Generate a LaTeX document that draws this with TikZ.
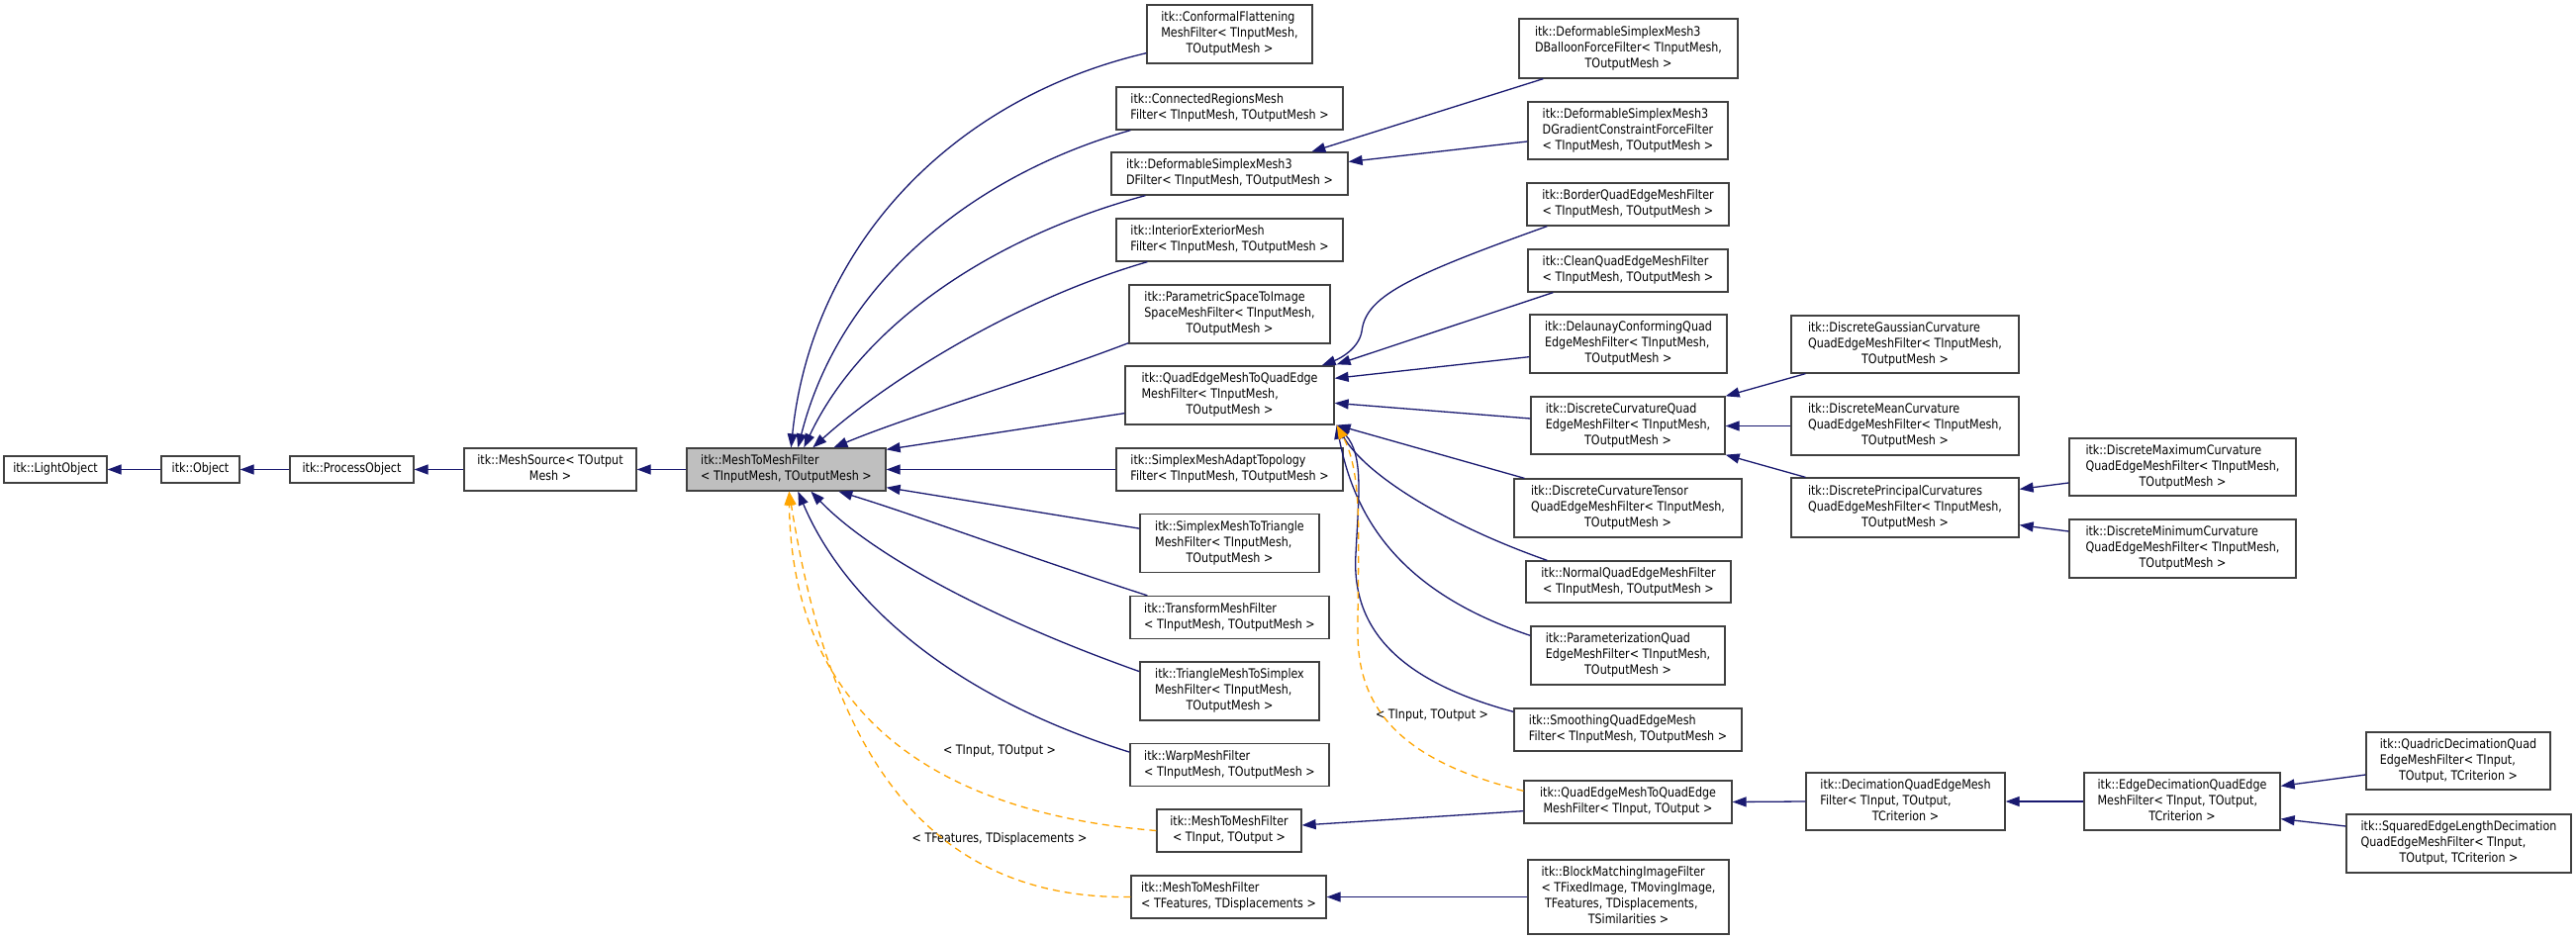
\documentclass[tikz,border=0pt]{standalone}
\usepackage{fontspec}
\setmainfont{DejaVu Sans}[FakeStretch=0.85]
\usetikzlibrary{arrows.meta,calc}
\definecolor{edgeblue}{RGB}{25,25,112}
\definecolor{tmplorange}{RGB}{255,165,0}
\definecolor{boxgray}{RGB}{191,191,191}
\definecolor{boxline}{RGB}{64,64,64}
\newcommand\dxl[1]{\begin{tabular}{@{}l@{}}#1\end{tabular}}
\newcommand\dxc{\multicolumn{1}{@{}c@{}}}
\begin{document}
\begin{tikzpicture}[x=1pt,y=-1pt,
  cls/.style={draw=boxline, line width=1.3pt, fill=white, inner sep=0pt, font=\fontsize{13.1}{16}\selectfont},
  inh/.style={draw=edgeblue, line width=1.3pt, -{Triangle[length=14pt,width=10pt,fill=edgeblue]}},
  tmpl/.style={draw=tmplorange, line width=1.3pt, dash pattern=on 7pt off 5pt, -{Triangle[length=14pt,width=10pt,fill=tmplorange]}},
  lbl/.style={font=\fontsize{13.1}{16}\selectfont, inner sep=0pt}]
\fill[white] (0,0) rectangle (2603,949);
\useasboundingbox (0,0) rectangle (2603,949);

% ---------- main chain ----------
\node[cls,minimum width=104,minimum height=27] (light) at (56,474.5) {\dxl{itk::LightObject}};
\node[cls,minimum width=79,minimum height=27] (object) at (202.5,474.5) {\dxl{itk::Object}};
\node[cls,minimum width=125,minimum height=27] (process) at (355.5,474.5) {\dxl{itk::ProcessObject}};
\node[cls,minimum width=174,minimum height=43] (source) at (556,474.5) {\dxl{itk::MeshSource< TOutput\\\dxc{Mesh >}}};
\node[cls,fill=boxgray,minimum width=201,minimum height=43] (m2m) at (794.5,474.5) {\dxl{itk::MeshToMeshFilter\\\dxc{< TInputMesh, TOutputMesh >}}};

% ---------- children of MeshToMeshFilter ----------
\node[cls,minimum width=167,minimum height=59] (conformal) at (1242.5,34.5) {\dxl{itk::ConformalFlattening\\MeshFilter< TInputMesh,\\\dxc{TOutputMesh >}}};
\node[cls,minimum width=229,minimum height=43] (connected) at (1242.5,109.5) {\dxl{itk::ConnectedRegionsMesh\\\dxc{Filter< TInputMesh, TOutputMesh >}}};
\node[cls,minimum width=239,minimum height=43] (deform) at (1242.5,175.5) {\dxl{itk::DeformableSimplexMesh3\\\dxc{DFilter< TInputMesh, TOutputMesh >}}};
\node[cls,minimum width=229,minimum height=43] (interior) at (1242.5,242.5) {\dxl{itk::InteriorExteriorMesh\\\dxc{Filter< TInputMesh, TOutputMesh >}}};
\node[cls,minimum width=203,minimum height=59] (param) at (1242.5,317.5) {\dxl{itk::ParametricSpaceToImage\\SpaceMeshFilter< TInputMesh,\\\dxc{TOutputMesh >}}};
\node[cls,minimum width=211,minimum height=59] (qe) at (1242.5,399.5) {\dxl{itk::QuadEdgeMeshToQuadEdge\\MeshFilter< TInputMesh,\\\dxc{TOutputMesh >}}};
\node[cls,minimum width=229,minimum height=43] (adapt) at (1242.5,474.5) {\dxl{itk::SimplexMeshAdaptTopology\\\dxc{Filter< TInputMesh, TOutputMesh >}}};
\node[cls,minimum width=181,minimum height=59] (stot) at (1242.5,549) {\dxl{itk::SimplexMeshToTriangle\\MeshFilter< TInputMesh,\\\dxc{TOutputMesh >}}};
\node[cls,minimum width=201,minimum height=43] (transform) at (1242.5,624) {\dxl{itk::TransformMeshFilter\\\dxc{< TInputMesh, TOutputMesh >}}};
\node[cls,minimum width=181,minimum height=59] (ttos) at (1242.5,698.5) {\dxl{itk::TriangleMeshToSimplex\\MeshFilter< TInputMesh,\\\dxc{TOutputMesh >}}};
\node[cls,minimum width=201,minimum height=43] (warp) at (1242.5,773) {\dxl{itk::WarpMeshFilter\\\dxc{< TInputMesh, TOutputMesh >}}};
\node[cls,minimum width=146,minimum height=43] (mio) at (1242,839.5) {\dxl{itk::MeshToMeshFilter\\\dxc{< TInput, TOutput >}}};
\node[cls,minimum width=197,minimum height=43] (mfd) at (1241.5,906.5) {\dxl{itk::MeshToMeshFilter\\\dxc{< TFeatures, TDisplacements >}}};

% ---------- third column ----------
\node[cls,minimum width=221,minimum height=60] (balloon) at (1645.5,49) {\dxl{itk::DeformableSimplexMesh3\\DBalloonForceFilter< TInputMesh,\\\dxc{TOutputMesh >}}};
\node[cls,minimum width=202,minimum height=58] (gradient) at (1645,132) {\dxl{itk::DeformableSimplexMesh3\\DGradientConstraintForceFilter\\\dxc{< TInputMesh, TOutputMesh >}}};
\node[cls,minimum width=204,minimum height=43] (border) at (1645,206.5) {\dxl{itk::BorderQuadEdgeMeshFilter\\\dxc{< TInputMesh, TOutputMesh >}}};
\node[cls,minimum width=202,minimum height=43] (clean) at (1645,273.5) {\dxl{itk::CleanQuadEdgeMeshFilter\\\dxc{< TInputMesh, TOutputMesh >}}};
\node[cls,minimum width=199,minimum height=59] (delaunay) at (1645.5,347.5) {\dxl{itk::DelaunayConformingQuad\\EdgeMeshFilter< TInputMesh,\\\dxc{TOutputMesh >}}};
\node[cls,minimum width=196,minimum height=58] (dcq) at (1645,430) {\dxl{itk::DiscreteCurvatureQuad\\EdgeMeshFilter< TInputMesh,\\\dxc{TOutputMesh >}}};
\node[cls,minimum width=230,minimum height=59] (tensor) at (1645,513.5) {\dxl{itk::DiscreteCurvatureTensor\\QuadEdgeMeshFilter< TInputMesh,\\\dxc{TOutputMesh >}}};
\node[cls,minimum width=207,minimum height=42] (normal) at (1645.5,588) {\dxl{itk::NormalQuadEdgeMeshFilter\\\dxc{< TInputMesh, TOutputMesh >}}};
\node[cls,minimum width=196,minimum height=59] (paramq) at (1645,662.5) {\dxl{itk::ParameterizationQuad\\EdgeMeshFilter< TInputMesh,\\\dxc{TOutputMesh >}}};
\node[cls,minimum width=230,minimum height=43] (smooth) at (1645,737.5) {\dxl{itk::SmoothingQuadEdgeMesh\\\dxc{Filter< TInputMesh, TOutputMesh >}}};
\node[cls,minimum width=210,minimum height=43] (qeio) at (1645,810.5) {\dxl{itk::QuadEdgeMeshToQuadEdge\\\dxc{MeshFilter< TInput, TOutput >}}};
\node[cls,minimum width=203,minimum height=75] (block) at (1645.5,906.5) {\dxl{itk::BlockMatchingImageFilter\\< TFixedImage, TMovingImage,\\\ TFeatures, TDisplacements,\\\dxc{TSimilarities >}}};

% ---------- fourth / fifth columns ----------
\node[cls,minimum width=230,minimum height=58] (gauss) at (1925,348) {\dxl{itk::DiscreteGaussianCurvature\\QuadEdgeMeshFilter< TInputMesh,\\\dxc{TOutputMesh >}}};
\node[cls,minimum width=230,minimum height=59] (mean) at (1925,430.5) {\dxl{itk::DiscreteMeanCurvature\\QuadEdgeMeshFilter< TInputMesh,\\\dxc{TOutputMesh >}}};
\node[cls,minimum width=230,minimum height=60] (principal) at (1925,513) {\dxl{itk::DiscretePrincipalCurvatures\\QuadEdgeMeshFilter< TInputMesh,\\\dxc{TOutputMesh >}}};
\node[cls,minimum width=229,minimum height=58] (maxc) at (2205.5,472) {\dxl{itk::DiscreteMaximumCurvature\\QuadEdgeMeshFilter< TInputMesh,\\\dxc{TOutputMesh >}}};
\node[cls,minimum width=229,minimum height=59] (minc) at (2205.5,554.5) {\dxl{itk::DiscreteMinimumCurvature\\QuadEdgeMeshFilter< TInputMesh,\\\dxc{TOutputMesh >}}};
\node[cls,minimum width=201,minimum height=58] (decim) at (1925.5,810) {\dxl{itk::DecimationQuadEdgeMesh\\Filter< TInput, TOutput,\\\dxc{TCriterion >}}};
\node[cls,minimum width=198,minimum height=58] (edgedec) at (2205,810) {\dxl{itk::EdgeDecimationQuadEdge\\MeshFilter< TInput, TOutput,\\\dxc{TCriterion >}}};
\node[cls,minimum width=186,minimum height=58] (quadric) at (2484,769) {\dxl{itk::QuadricDecimationQuad\\EdgeMeshFilter< TInput,\\\dxc{TOutput, TCriterion >}}};
\node[cls,minimum width=227,minimum height=59] (squared) at (2484.5,852.5) {\dxl{itk::SquaredEdgeLengthDecimation\\QuadEdgeMeshFilter< TInput,\\\dxc{TOutput, TCriterion >}}};

% ---------- labels ----------
\node[lbl] (labA) at (1010,759) {< TInput, TOutput >};
\node[lbl] (labB) at (1010,848) {< TFeatures, TDisplacements >};
\node[lbl] (labC) at (1447,723) {< TInput, TOutput >};

% ---------- edges: main chain ----------
\draw[inh] (object.west) -- (light.east);
\draw[inh] (process.west) -- (object.east);
\draw[inh] (source.west) -- (process.east);
\draw[inh] (m2m.west) -- (source.east);

% ---------- edges into MeshToMeshFilter ----------
\draw[inh] ($(conformal.south west)+(0,-11)$) .. controls (960,100) and (820,250) .. ($(m2m.north west)+(106,0)$);
\draw[inh] ($(connected.south west)+(15,0)$) .. controls (990,175) and (850,280) .. ($(m2m.north west)+(113,0)$);
\draw[inh] ($(deform.south west)+(35,0)$) .. controls (1000,240) and (870,330) .. ($(m2m.north west)+(119,0)$);
\draw[inh] ($(interior.south west)+(32,0)$) .. controls (1020,305) and (890,390) .. ($(m2m.north west)+(128,0)$);
\draw[inh] ($(param.south west)+(0,-1)$) .. controls (1040,385) and (920,420) .. ($(m2m.north west)+(149,0)$);
\draw[inh] ($(qe.south west)+(0,-12)$) -- ($(m2m.north east)+(0,2)$);
\draw[inh] (adapt.west) -- (m2m.east);
\draw[inh] ($(stot.south west)+(0,-45)$) -- ($(m2m.south east)+(0,-4)$);
\draw[inh] ($(transform.north west)+(18,0)$) .. controls (1030,560) and (930,522) .. ($(m2m.south west)+(154,0)$);
\draw[inh] ($(ttos.south west)+(0,-50)$) .. controls (1000,625) and (880,560) .. ($(m2m.south west)+(126,0)$);
\draw[inh] ($(warp.south west)+(0,-35)$) .. controls (950,700) and (850,600) .. ($(m2m.south west)+(113,0)$);
\draw[tmpl] (mio.west) .. controls (930,820) and (800,710) .. ($(m2m.south west)+(104,0)$);
\draw[tmpl] (mfd.west) .. controls (900,910) and (830,700) .. ($(m2m.south west)+(104,0)$);

% ---------- edges into DeformableSimplexMesh3DFilter ----------
\draw[inh] ($(balloon.south west)+(25,0)$) -- ($(deform.north west)+(203,0)$);
\draw[inh] ($(gradient.west)+(0,11)$) -- ($(deform.east)+(0,-12)$);

% ---------- edges into QuadEdgeMeshToQuadEdgeMeshFilter ----------
\draw[inh] ($(border.south west)+(21,0)$) .. controls (1420,280) and (1380,300) .. (1376,335) .. controls (1373,352) and (1355,362) .. ($(qe.north east)+(-13,0)$);
\draw[inh] ($(clean.south west)+(26,0)$) -- ($(qe.north east)+(2,-1)$);
\draw[inh] ($(delaunay.south west)+(0,-17)$) -- ($(qe.north east)+(0,13)$);
\draw[inh] ($(dcq.west)+(0,-7)$) -- ($(qe.north east)+(0,38)$);
\draw[inh] ($(tensor.north west)+(11,0)$) -- ($(qe.south east)+(2,0)$);
\draw[inh] ($(normal.north west)+(22,0)$) .. controls (1460,530) and (1380,480) .. ($(qe.south east)+(2,0)$);
\draw[inh] ($(paramq.north west)+(0,10)$) .. controls (1420,600) and (1370,530) .. ($(qe.south east)+(2,0)$);
\draw[inh] ($(smooth.north west)+(0,4)$) .. controls (1420,690) and (1365,640) .. (1370,560) .. controls (1373,500) and (1378,460) .. ($(qe.south east)+(2,0)$);
\draw[tmpl] ($(qeio.north west)+(0,11)$) .. controls (1420,770) and (1372,720) .. (1372,640) .. controls (1372,550) and (1378,480) .. ($(qe.south east)+(2,0)$);

% ---------- curvature family ----------
\draw[inh] ($(gauss.south west)+(15,0)$) -- (dcq.north east);
\draw[inh] (mean.west) -- ($(dcq.east)+(0,0.5)$);
\draw[inh] ($(principal.north west)+(15,0)$) -- (dcq.south east);
\draw[inh] ($(maxc.west)+(0,16)$) -- ($(principal.north east)+(0,12)$);
\draw[inh] ($(minc.west)+(0,-17.5)$) -- ($(principal.south east)+(0,-13)$);

% ---------- decimation family ----------
\draw[inh] ($(qeio.south west)+(0,-13)$) -- ($(mio.east)+(0,-5.5)$);
\draw[inh] (decim.west) -- (qeio.east);
\draw[inh] (edgedec.west) -- (decim.east);
\draw[inh] ($(quadric.west)+(0,14)$) -- ($(edgedec.north east)+(0,14)$);
\draw[inh] ($(squared.west)+(0,-17.5)$) -- ($(edgedec.south east)+(0,-12)$);
\draw[inh] (block.west) -- (mfd.east);
\end{tikzpicture}
\end{document}
